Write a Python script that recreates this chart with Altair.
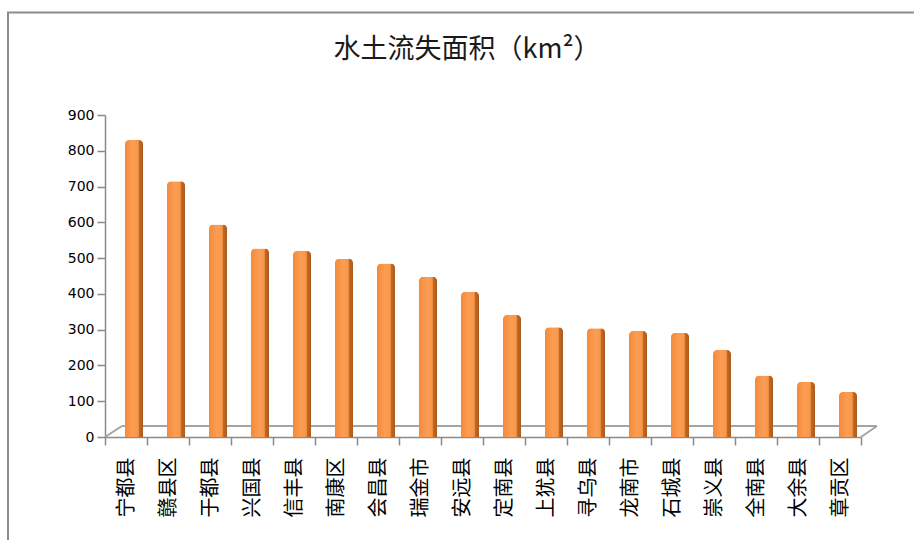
import altair as alt
import pandas as pd

counties = ["宁都县", "赣县区", "于都县", "兴国县", "信丰县", "南康区", "会昌县", "瑞金市", "安远县",
            "定南县", "上犹县", "寻乌县", "龙南市", "石城县", "崇义县", "全南县", "大余县", "章贡区"]
areas = [830, 715, 594, 527, 520, 498, 485, 448, 406,
         341, 307, 304, 296, 291, 243, 172, 154, 126]
y_ticks = [0, 100, 200, 300, 400, 500, 600, 700, 800, 900]
title_text = "水土流失面积（km²）"

df = pd.DataFrame({"county": counties, "area": areas})

W, H = 756, 322
GRAY = "#8a8a8a"

bar_fill = alt.Gradient(
    gradient="linear", x1=0, x2=1, y1=0, y2=0,
    stops=[
        alt.GradientStop(color="#F58A38", offset=0),
        alt.GradientStop(color="#FA9E55", offset=0.45),
        alt.GradientStop(color="#F79646", offset=0.74),
        alt.GradientStop(color="#C46A27", offset=0.78),
        alt.GradientStop(color="#A9591C", offset=1),
    ],
)

deco = alt.Data(values=[{}])

border = alt.Chart(deco).mark_rect(fillOpacity=0, stroke="#8c8c8c", strokeWidth=2).encode(
    x=alt.value(8 - 105), x2=alt.value(W + 80),
    y=alt.value(12.5 - 115), y2=alt.value(H + 140),
)

title = alt.Chart(deco).mark_text(
    font="Noto Sans CJK SC", fontSize=27, fontWeight="normal", color="#1a1a1a",
    align="center", baseline="middle",
).encode(x=alt.value(467 - 105), y=alt.value(50 - 115), text=alt.value(title_text))

floor_back = alt.Chart(deco).mark_rule(color="#a3a3a3", strokeWidth=2).encode(
    x=alt.value(17), x2=alt.value(W + 16), y=alt.value(H - 11), y2=alt.value(H - 11)
)
floor_left = alt.Chart(deco).mark_rule(color="#a3a3a3", strokeWidth=2).encode(
    x=alt.value(0), x2=alt.value(17), y=alt.value(H), y2=alt.value(H - 11)
)
floor_right = alt.Chart(deco).mark_rule(color="#a3a3a3", strokeWidth=2).encode(
    x=alt.value(W), x2=alt.value(W + 16), y=alt.value(H), y2=alt.value(H - 11)
)

# white covers to hide the faint plot-area frame
cover_top = alt.Chart(deco).mark_rule(color="white", strokeWidth=3).encode(
    x=alt.value(2), x2=alt.value(W + 2), y=alt.value(0), y2=alt.value(0)
)
cover_right = alt.Chart(deco).mark_rule(color="white", strokeWidth=3).encode(
    x=alt.value(W), x2=alt.value(W), y=alt.value(-2), y2=alt.value(H - 14)
)

bars = alt.Chart(df).mark_bar(
    size=18, xOffset=8, fill=bar_fill,
    cornerRadiusTopLeft=4, cornerRadiusTopRight=4,
).encode(
    x=alt.X("county:N", sort=None,
            scale=alt.Scale(paddingInner=0, paddingOuter=0),
            axis=alt.Axis(title=None, labelAngle=-90, tickBand="extent",
                          labelFont="Noto Sans CJK SC", labelFontSize=20,
                          labelColor="#000000", labelPadding=12,
                          tickSize=8, tickColor=GRAY, tickWidth=1.5,
                          domainColor=GRAY, domainWidth=1.5)),
    y=alt.Y("area:Q",
            scale=alt.Scale(domain=[0, 900], nice=False),
            axis=alt.Axis(title=None, values=y_ticks, grid=False,
                          labelFont="DejaVu Sans", labelFontSize=14,
                          labelColor="#000000", labelPadding=3,
                          tickSize=8, tickColor=GRAY, tickWidth=1.5,
                          domainColor=GRAY, domainWidth=1.5)),
)

chart = alt.layer(border, title, floor_back, floor_left, floor_right, cover_top, cover_right, bars).properties(
    width=W, height=H,
    autosize=alt.AutoSizeParams(type="none"),
    padding={"left": 105, "top": 115, "right": 53, "bottom": 103},
).configure(
    background="white",
    style={"cell": {"stroke": "transparent", "strokeWidth": 0}},
).configure_view(stroke=None)

chart.save("out.html", embed_options={"renderer": "svg", "actions": False})
